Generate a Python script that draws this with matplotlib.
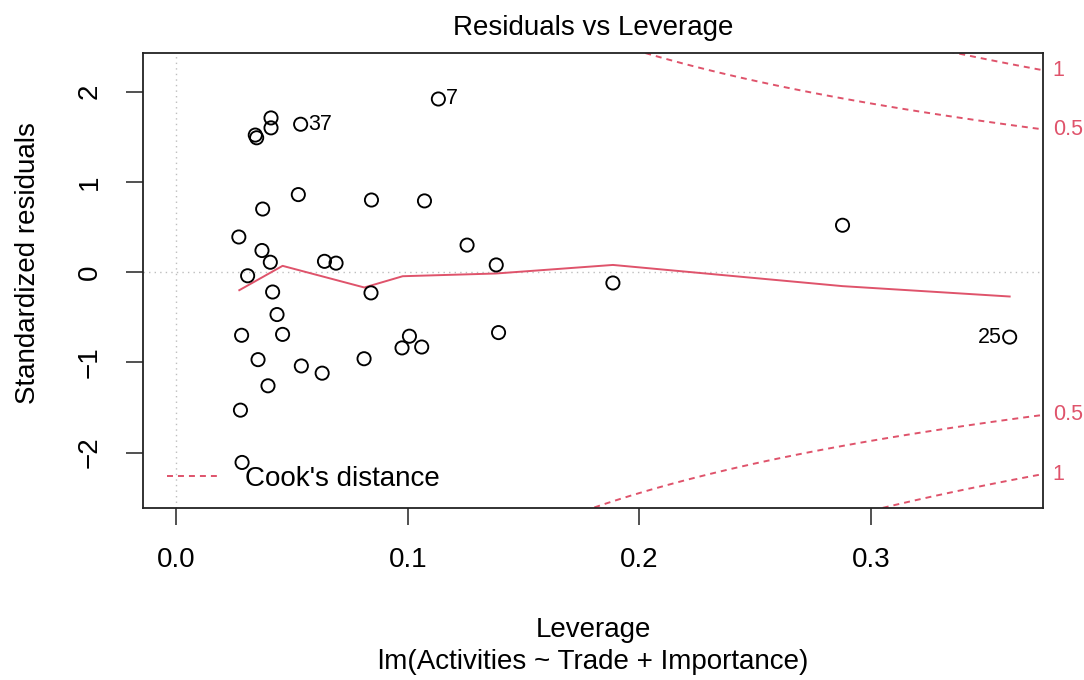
import matplotlib
matplotlib.use("Agg")
import matplotlib.pyplot as plt
import numpy as np

plt.rcParams['font.family'] = ['Liberation Sans', 'DejaVu Sans']
plt.rcParams['lines.scale_dashes'] = False

# leverage and standardized residuals
leverage = [0.0284, 0.0277, 0.0396, 0.0353, 0.0282, 0.0459, 0.0540, 0.0630,
            0.0811, 0.0435, 0.0416, 0.0308, 0.0406, 0.0370, 0.0270, 0.0640,
            0.0690, 0.0841, 0.1007, 0.0975, 0.1060, 0.1256, 0.1382, 0.1392,
            0.1886, 0.3600, 0.2878, 0.1132, 0.0537, 0.0409, 0.0409, 0.0341,
            0.0347, 0.0527, 0.0373, 0.0843, 0.1072]
std_resid = [-2.11, -1.53, -1.26, -0.97, -0.70, -0.69, -1.04, -1.12,
             -0.96, -0.47, -0.22, -0.04, 0.11, 0.24, 0.39, 0.12,
             0.10, -0.23, -0.71, -0.84, -0.83, 0.30, 0.08, -0.67,
             -0.12, -0.72, 0.52, 1.92, 1.64, 1.71, 1.60, 1.52,
             1.49, 0.86, 0.70, 0.80, 0.79]

# labelled observations: (index in arrays, label, side)
labelled = [(27, "7", "right"), (28, "37", "right"), (25, "25", "left")]

# red smoother, vertices
smooth_x = [0.0272, 0.0459, 0.0812, 0.0978, 0.138, 0.1886, 0.2878, 0.36]
smooth_y = [-0.20, 0.07, -0.17, -0.045, -0.015, 0.08, -0.155, -0.27]

cook_levels = [0.5, 1]
cook_labels = ["0.5", "1"]
n_params = 3

xticks = [0.0, 0.1, 0.2, 0.3]
yticks = [-2, -1, 0, 1, 2]

ROUGE = "#DF536B"
TIRETS = (0, (4.3, 3.6))

lev = np.array(leverage)
res = np.array(std_resid)

fig = plt.figure(figsize=(10.84, 6.8), dpi=100)
ax = fig.add_axes([143/1084, 1 - 508/680, 900/1084, 455/680])

xlim = (-0.0144, 0.3744)
ylim = (-2.615, 2.43)
ax.set_xlim(xlim)
ax.set_ylim(ylim)

ax.axhline(0, color="#BEBEBE", linestyle=(0, (1.0, 3.0)), linewidth=1.0, zorder=0)
ax.axvline(0, color="#BEBEBE", linestyle=(0, (1.0, 3.0)), linewidth=1.0, zorder=0)

ax.scatter(lev, res, s=90, facecolors="none", edgecolors="black", linewidths=1.35, zorder=3)
ax.plot(smooth_x, smooth_y, color=ROUGE, linewidth=1.4, zorder=2)

# courbes de distance de Cook
hh = np.linspace(min(lev.min(), lev.max()/100), xlim[1], 101)
for lvl, lab in zip(cook_levels, cook_labels):
    cl = np.sqrt(lvl * n_params * (1 - hh) / hh)
    ax.plot(hh, cl, color=ROUGE, linestyle=TIRETS, linewidth=1.4)
    ax.plot(hh, -cl, color=ROUGE, linestyle=TIRETS, linewidth=1.4)
    y_end = cl[-1]
    for yy in (y_end, -y_end):
        ax.annotate(lab, xy=(1, yy), xycoords=("axes fraction", "data"),
                    xytext=(7, 0), textcoords="offset points",
                    ha="left", va="center", fontsize=15.5, color=ROUGE,
                    annotation_clip=False)

for i, lab, side in labelled:
    dx = 5.5 if side == "right" else -5.5
    ax.annotate(lab, xy=(lev[i], res[i]), xytext=(dx, 0), textcoords="offset points",
                ha="left" if side == "right" else "right", va="center", fontsize=15.5)

ax.plot([], [], color=ROUGE, linestyle=TIRETS, linewidth=1.4, label="Cook's distance")
ax.legend(loc="lower left", bbox_to_anchor=(0.027, 0.035), frameon=False, fontsize=20,
          handlelength=1.8, handletextpad=1.0, borderaxespad=0, borderpad=0)

ax.set_xticks(xticks)
ax.set_xticklabels([f"{t:.1f}" for t in xticks])
ax.set_yticks(yticks)
ax.set_yticklabels(["\u22122", "\u22121", "0", "1", "2"])
for lbl in ax.get_yticklabels():
    lbl.set_rotation(90)
    lbl.set_va("center")
ax.tick_params(axis="both", labelsize=20, length=12, width=1.1, color="#222222")
ax.tick_params(axis="x", pad=16)
ax.tick_params(axis="y", pad=17)
for sp in ax.spines.values():
    sp.set_linewidth(1.3)
    sp.set_color("#222222")

fig.text(593/1084, 1 - 28/680, "Residuals vs Leverage", ha="center", va="center", fontsize=20)
fig.text(593/1084, 1 - 630/680, "Leverage", ha="center", va="center", fontsize=20)
fig.text(593/1084, 1 - 662/680, "lm(Activities ~ Trade + Importance)", ha="center", va="center", fontsize=20)
fig.text(28/1084, 1 - 263/680, "Standardized residuals", ha="center", va="center",
         rotation=90, fontsize=20)

fig.savefig("out.png", dpi=100)
